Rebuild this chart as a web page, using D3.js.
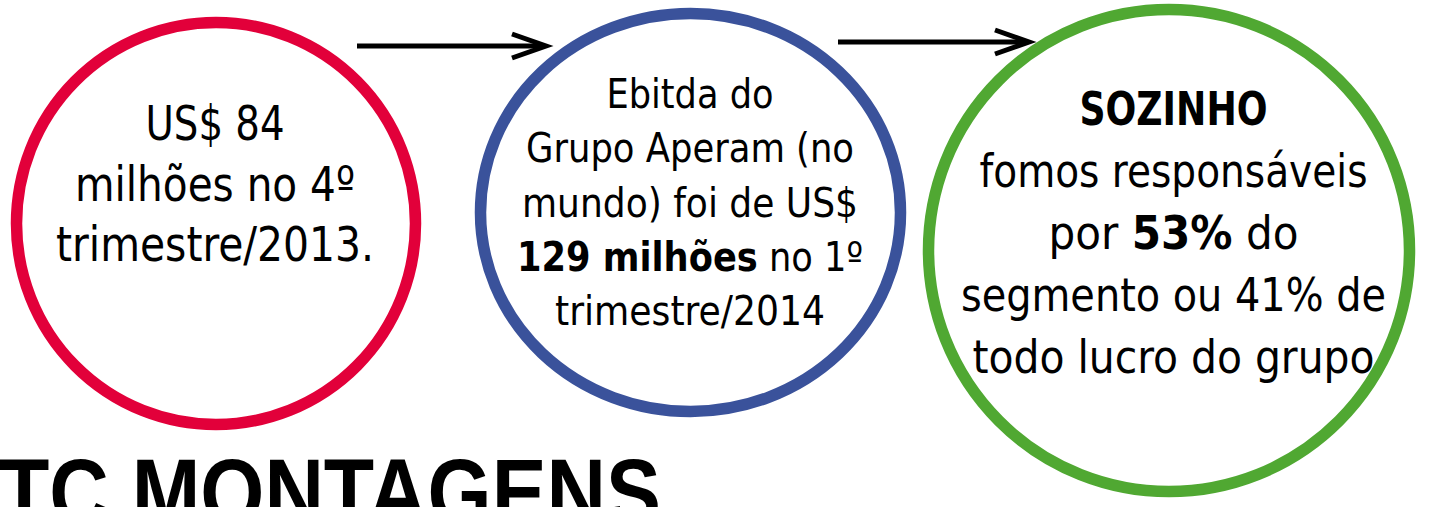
<!DOCTYPE html>
<html>
<head>
<meta charset="utf-8">
<title>TC Montagens</title>
<script src="https://cdnjs.cloudflare.com/ajax/libs/d3/7.8.5/d3.min.js"></script>
<style>
  body { margin: 0; background: #fff; }
  svg { display: block; }
  .body-text { font-family: "DejaVu Sans Condensed", "DejaVu Sans", sans-serif; font-stretch: condensed; fill: #000; }
</style>
</head>
<body>
<div id="chart"></div>
<script>
// --- content ---
// **...** marks the bold part of a line
var stepNames = ["quarter2013", "grupo2014", "sozinho"];
var stepColors = ["#e2003a", "#3a529b", "#50a832"];
var redLines = ["US$ 84", "milhões no 4º", "trimestre/2013."];
var blueLines = ["Ebitda do", "Grupo Aperam (no", "mundo) foi de US$", "**129 milhões** no 1º", "trimestre/2014"];
var greenLines = ["**SOZINHO**", "fomos responsáveis", "por **53%** do", "segmento ou 41% de", "todo lucro do grupo"];
var title = "TC MONTAGENS";

// --- layout (pixels) ---
var W = 1434, H = 507;
var layout = [
  { cx: 216, cy: 223.5, rx: 199.5, ry: 201, fs: 48, lead: 60.5, first: 140, tx: 215,
    widths: [139, 280, 318] },
  { cx: 690.5, cy: 212.5, rx: 210, ry: 199, fs: 40, lead: 54.3, first: 108, tx: 690,
    widths: [167, 328, 336, 346, 270] },
  { cx: 1169, cy: 250.5, rx: 240.5, ry: 241, fs: 47, lead: 62, first: 125, tx: 1173.5,
    widths: [188, 388, 250, 425, 402] }
];
var arrows = [
  { x1: 357, x2: 547, y: 46 },
  { x1: 838, x2: 1030, y: 42 }
];

var svg = d3.select("#chart").append("svg")
  .attr("width", W).attr("height", H);

var lines = [redLines, blueLines, greenLines];
var color = d3.scaleOrdinal().domain(stepNames).range(stepColors);

// circles
svg.selectAll("ellipse.step")
  .data(stepNames)
  .enter().append("ellipse")
  .attr("class", "step")
  .attr("cx", function(d, i) { return layout[i].cx; })
  .attr("cy", function(d, i) { return layout[i].cy; })
  .attr("rx", function(d, i) { return layout[i].rx; })
  .attr("ry", function(d, i) { return layout[i].ry; })
  .style("fill", "none")
  .style("stroke", function(d) { return color(d); })
  .style("stroke-width", 11.5);

// arrows
var arr = svg.selectAll("g.arrow")
  .data(arrows)
  .enter().append("g").attr("class", "arrow")
  .style("stroke", "#000").style("stroke-width", 5).style("fill", "none");

arr.append("line")
  .attr("x1", function(d) { return d.x1; })
  .attr("x2", function(d) { return d.x2 - 3; })
  .attr("y1", function(d) { return d.y; })
  .attr("y2", function(d) { return d.y; });

arr.append("polyline")
  .attr("points", function(d) {
    return [[d.x2 - 35, d.y - 12], [d.x2 - 1, d.y], [d.x2 - 35, d.y + 12]].join(" ");
  })
  .style("stroke-linejoin", "miter");

// text inside circles
function parse(s) {
  return s.split("**").map(function(t, i) { return { t: t, b: i % 2 === 1 }; })
    .filter(function(p) { return p.t.length; });
}

stepNames.forEach(function(name, i) {
  var L = layout[i];
  svg.append("g").selectAll("text")
    .data(lines[i])
    .enter().append("text")
    .attr("class", "body-text")
    .attr("x", function(d, j) { return L.tx - L.widths[j] / 2; })
    .attr("y", function(d, j) { return L.first + j * L.lead; })
    .attr("textLength", function(d, j) { return L.widths[j]; })
    .attr("lengthAdjust", "spacingAndGlyphs")
    .style("font-size", L.fs + "px")
    .each(function(d) {
      var t = d3.select(this);
      parse(d).forEach(function(p) {
        t.append("tspan").text(p.t)
          .style("font-weight", p.b ? "bold" : "normal")
          .style("white-space", "pre");
      });
    });
});

// title, cut by the bottom edge as in the original
svg.append("text")
  .attr("x", -1)
  .attr("y", 525)
  .attr("textLength", 662)
  .attr("lengthAdjust", "spacingAndGlyphs")
  .style("font-family", "'Liberation Sans Narrow', 'Liberation Sans', Arial, sans-serif")
  .style("font-weight", "bold")
  .style("font-size", "95px")
  .style("fill", "#000")
  .text(title);
</script>
</body>
</html>
